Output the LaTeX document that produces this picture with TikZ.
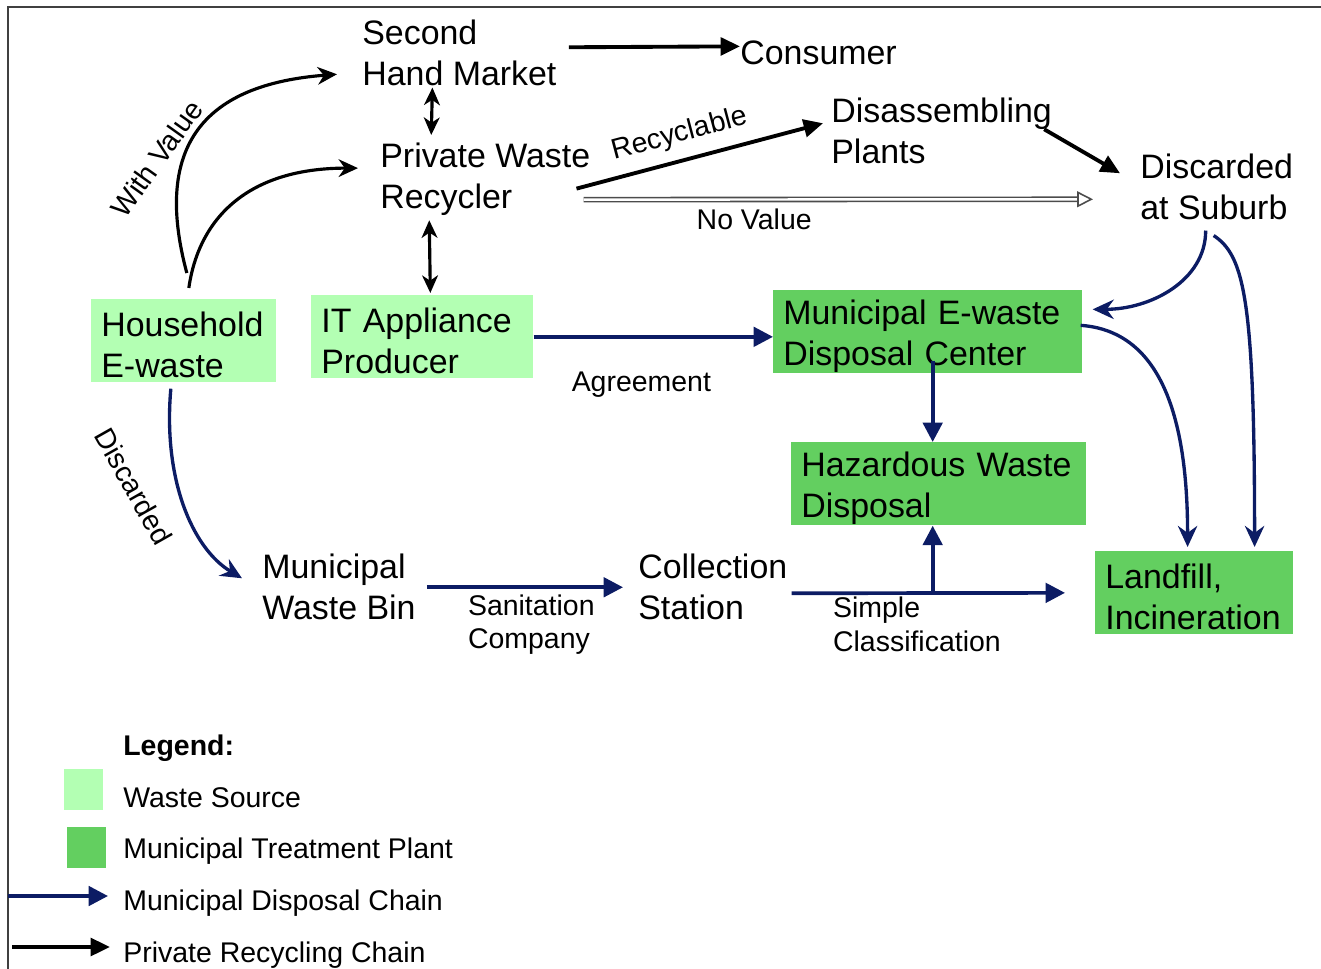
\documentclass[tikz,border=0pt]{standalone}
\usepackage{fontspec}
\setmainfont{Liberation Sans}
\usepackage{tikz}
\usetikzlibrary{calc,arrows.meta}

\definecolor{srcgreen}{RGB}{179,255,179}
\definecolor{plantgreen}{RGB}{99,207,96}
\definecolor{navy}{RGB}{12,28,100}
\newcommand{\mainfnt}{\fontsize{19.3}{23.3}\selectfont}
\newcommand{\smallfnt}{\fontsize{16.2}{19.3}\selectfont}

\begin{document}
\begin{tikzpicture}[x=0.02cm,y=-0.02cm,
  txt/.style={anchor=north west,inner sep=0pt,align=left,font=\mainfnt},
  srcbox/.style={anchor=north west,fill=srcgreen,inner xsep=0.2cm,inner ysep=0pt,minimum height=1.66cm,align=left,font=\mainfnt,text width=#1,
    execute at begin node={\rule{0pt}{19pt}}},
  plantbox/.style={srcbox=#1,fill=plantgreen},
  lbl/.style={font=\smallfnt,inner sep=0pt},
  priv/.style={draw=black,line width=2.2pt,-{Triangle[length=11pt,width=10pt]}},
  privcurve/.style={draw=black,line width=1.8pt,-{Stealth[length=11pt,width=10pt,inset=3.5pt]}},
  both/.style={draw=black,line width=1.8pt,{Stealth[length=10pt,width=9pt,inset=3pt]}-{Stealth[length=10pt,width=9pt,inset=3pt]}},
  muni/.style={draw=navy,line width=2.1pt,-{Triangle[length=11pt,width=11pt]}},
  municurve/.style={draw=navy,line width=1.9pt,-{Stealth[length=12pt,width=11pt,inset=4pt]}},
  novalue/.style={draw=black!70,double=white,double distance=1.4pt,line width=0.9pt,-{Triangle[open,length=9pt,width=9pt]}}]
  \useasboundingbox (0,0) rectangle (1321,969);
  \draw[black!75,line width=1.2pt] (1321,7) -- (8,7) -- (8,969);

  % places
  \node(shm)[txt] at (362,20) {Second\\Hand Market};
  \node(cons)[txt] at (740,40) {Consumer};
  \node(pwr)[txt] at (380,143) {Private Waste\\Recycler};
  \node(das)[txt] at (831,98) {Disassembling\\Plants};
  \node(dsb)[txt] at (1140,154) {Discarded\\at Suburb};
  \node(hse)[srcbox=3.3cm] at (91,299) {Household\\E-waste};
  \node(itp)[srcbox=4.04cm] at (311,295) {IT Appliance\\Producer};
  \node(mec)[plantbox=5.78cm] at (773,290) {Municipal E-waste\\Disposal Center};
  \node(hzd)[plantbox=5.5cm] at (791,442) {Hazardous Waste\\Disposal};
  \node(lfi)[plantbox=3.55cm] at (1095,551) {Landfill,\\Incineration};
  \node(mwb)[txt] at (262,554) {Municipal\\Waste Bin};
  \node(cst)[txt] at (638,554) {Collection\\Station};

  % private recycling chain
  \draw[priv] ($(shm.east)+(12,-6)$) -- ($(cons.west)+(0,-6)$);
  \draw[both] ($(shm.south)+(-27,1)$) -- ($(pwr.north)+(-54,-8)$);
  \draw[both] ($(pwr.south)+(-56,4)$) -- ($(itp.north)+(8,-2)$);
  \draw[priv] ($(pwr.east)+(-14,9)$) -- node[lbl,pos=0.445,sloped,above=6pt]{Recyclable} ($(das.west)+(-8,-8)$);
  \draw[priv] ($(das.east)+(-8,-2)$) -- ($(dsb.west)+(-20,-14)$);
  \draw[novalue] ($(pwr.east)+(-7,20)$) -- node[lbl,pos=0.335,below=5pt]{No Value} ($(dsb.west)+(-47,12)$);
  \draw[privcurve] ($(hse.north)+(3,-26)$) .. controls +(-35,-130) and +(-130,10) .. node[lbl,pos=0.3,rotate=54.5,anchor=south,inner ysep=9pt]{With Value} ($(shm.west)+(-25,21)$);
  \draw[privcurve] ($(hse.north)+(5,-11)$) .. controls +(10,-70) and +(-110,0) .. ($(pwr.west)+(-22,-11.5)$);

  % municipal disposal chain
  \draw[muni] (itp.east) -- node[lbl,pos=0.45,below=19pt]{Agreement} (itp.east -| mec.west);
  \draw[municurve] ($(hse.south)+(-13,6)$) .. controls +(-8,90) and +(-50,-30) .. node[lbl,pos=0.3,rotate=-60.5,anchor=north,inner ysep=19pt]{Discarded} ($(mwb.west)+(-20,-9)$);
  \draw[muni] ($(mwb.east)+(11,0)$) -- node[lbl,pos=0.2,anchor=north west,yshift=-3pt,align=left]{Sanitation\\Company} ($(cst.west)+(-15,0)$);
  \draw[muni] ($(cst.east)+(4,6)$) -- coordinate[pos=0.516](split) node[lbl,pos=0.145,anchor=north west,yshift=-1pt,align=left]{Simple\\Classification} ($(lfi.west)+(-30,0)$);
  \draw[muni] (split) -- (split |- hzd.south);
  \draw[muni] ($(split |- mec.south)+(0,-13)$) -- (split |- hzd.north);
  \draw[municurve] ($(dsb.south)+(-11,10)$) .. controls +(0,50) and +(58,0) .. ($(mec.east)+(10,-22.5)$);
  \draw[municurve] ($(dsb.south)+(-3,15)$) .. controls +(30,20) and +(0,-250) .. ($(lfi.north)+(60.5,-4)$);
  \draw[municurve] ($(mec.east)+(-2,-6.5)$) .. controls +(70,5) and +(0,-150) .. ($(lfi.north)+(-6.5,-4)$);

  % legend
  \node(legtitle)[lbl,anchor=base west,font=\smallfnt\bfseries] at (123,755) {Legend:};
  \fill[srcgreen] (64,769) rectangle (103,810);
  \node(legsrc)[lbl,anchor=base west] at (123,807) {Waste Source};
  \fill[plantgreen] (67,827) rectangle (106,868);
  \node(legplant)[lbl,anchor=base west] at (123,858) {Municipal Treatment Plant};
  \coordinate(legmA) at (8,896);
  \coordinate(legmB) at (108,896);
  \draw[muni] (legmA) -- (legmB);
  \node(legmuni)[lbl,anchor=base west] at (123,910) {Municipal Disposal Chain};
  \coordinate(legpA) at (12,947);
  \coordinate(legpB) at (110,947);
  \draw[priv] (legpA) -- (legpB);
  \node(legpriv)[lbl,anchor=base west] at (123,962) {Private Recycling Chain};
\end{tikzpicture}
\end{document}
